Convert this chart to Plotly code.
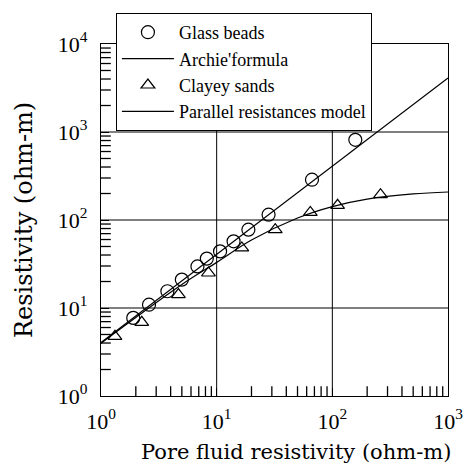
import plotly.graph_objects as go

# Glass beads (circles)
beads_x = [1.90, 2.60, 3.75, 5.0, 6.82, 8.22, 10.7, 14.0, 18.8, 28.1, 66.7, 158]
beads_y = [7.72, 10.9, 15.5, 21.0, 29.7, 36.4, 44.0, 57.2, 77.6, 115, 287, 815]

# Clayey sands (triangles)
sands_x = [1.32, 2.25, 4.67, 8.49, 16.5, 32.1, 64.5, 111, 261]
sands_y = [4.77, 6.88, 14.2, 25.0, 48.1, 77.6, 122, 147, 194]

# Archie formula line
archie_x = [1, 1000]
archie_y = [4.05, 4120]

# Parallel resistances model curve
parallel_x = [1, 2, 5, 10, 20, 50, 100, 200, 500, 1000]
parallel_y = [3.98, 7.81, 18.5, 33.0, 59.1, 105.2, 142, 172.4, 197.6, 208]

# Axis ticks: decades are labelled, intermediate values are minor ticks
x_decades = [1, 10, 100, 1000]
x_decade_text = ["10<sup>0</sup>", "10<sup>1</sup>", "10<sup>2</sup>", "10<sup>3</sup>"]
y_decades = [1, 10, 100, 1000, 10000]
y_decade_text = ["10<sup>0</sup>", "10<sup>1</sup>", "10<sup>2</sup>", "10<sup>3</sup>", "10<sup>4</sup>"]
multiples = [2, 3, 4, 5, 6, 7, 8, 9]

x_minor = [d * m for d in x_decades[:-1] for m in multiples]
y_minor = [d * m for d in y_decades[:-1] for m in multiples]

TICKFONT = "Liberation Serif"
TITLEFONT = "DejaVu Serif"

fig = go.Figure()

# decade grid lines (drawn first, underneath the data)
for d in x_decades[1:-1]:
    fig.add_trace(go.Scatter(x=[d, d], y=[y_decades[0], y_decades[-1]], mode="lines",
                             line=dict(color="black", width=1), showlegend=False, hoverinfo="skip"))
for d in y_decades[1:-1]:
    fig.add_trace(go.Scatter(x=[x_decades[0], x_decades[-1]], y=[d, d], mode="lines",
                             line=dict(color="black", width=1), showlegend=False, hoverinfo="skip"))

# minor tick marks along the bottom and left axes (half clipped by the plot area -> inside ticks)
fig.add_trace(go.Scatter(x=x_minor, y=[y_decades[0]] * len(x_minor), mode="markers",
                         marker=dict(symbol="line-ns-open", size=14, color="black",
                                     line=dict(width=1.3, color="black")),
                         showlegend=False, hoverinfo="skip", cliponaxis=True))
fig.add_trace(go.Scatter(x=[x_decades[0]] * len(y_minor), y=y_minor, mode="markers",
                         marker=dict(symbol="line-ew-open", size=14, color="black",
                                     line=dict(width=1.3, color="black")),
                         showlegend=False, hoverinfo="skip", cliponaxis=True))

fig.add_trace(go.Scatter(x=beads_x, y=beads_y, mode="markers", name="Glass beads",
                         marker=dict(symbol="circle-open", size=13, color="black", line=dict(width=1.2))))
fig.add_trace(go.Scatter(x=archie_x, y=archie_y, mode="lines", name="Archie'formula",
                         line=dict(color="black", width=1.2)))
fig.add_trace(go.Scatter(x=sands_x, y=sands_y, mode="markers", name="Clayey sands",
                         marker=dict(symbol="triangle-up-open", size=12, color="black", line=dict(width=1.2))))
fig.add_trace(go.Scatter(x=parallel_x, y=parallel_y, mode="lines", name="Parallel resistances model",
                         line=dict(color="black", width=1.2, shape="spline")))

tick_axis = dict(
    type="log", tickmode="array", showline=True, linecolor="black", linewidth=1.2,
    mirror=True, showgrid=False,
    ticks="inside", ticklen=8, tickcolor="black", tickwidth=1,
    tickfont=dict(family=TICKFONT, size=22, color="black"),
    zeroline=False,
)

fig.update_layout(
    xaxis=dict(**tick_axis, range=[0, 3], tickvals=x_decades, ticktext=x_decade_text,
               ticklabelstandoff=5),
    yaxis=dict(**tick_axis, range=[0, 4], tickvals=y_decades, ticktext=y_decade_text,
               ticklabelstandoff=8,
               title=dict(text="Resistivity (ohm-m)",
                          font=dict(family=TITLEFONT, size=24, color="black"), standoff=18)),
)

fig.add_annotation(text="Pore fluid resistivity (ohm-m)", xref="paper", yref="paper",
                   x=0.563, y=-0.16, xanchor="center", yanchor="middle", showarrow=False,
                   font=dict(family=TITLEFONT, size=21, color="black"))

fig.update_layout(
    width=469, height=473,
    margin=dict(l=101, r=21, t=44, b=77, autoexpand=False),
    paper_bgcolor="white", plot_bgcolor="white",
    font=dict(family=TICKFONT, color="black"),
    showlegend=True,
    legend=dict(x=0.043, y=1.088, xanchor="left", yanchor="top",
                bgcolor="white", bordercolor="black", borderwidth=1,
                font=dict(family=TICKFONT, size=18, color="black"),
                itemwidth=52, tracegroupgap=0),
)

fig.write_html("out.html", config={"displayModeBar": False},
               post_script="document.body.style.margin='0';")
